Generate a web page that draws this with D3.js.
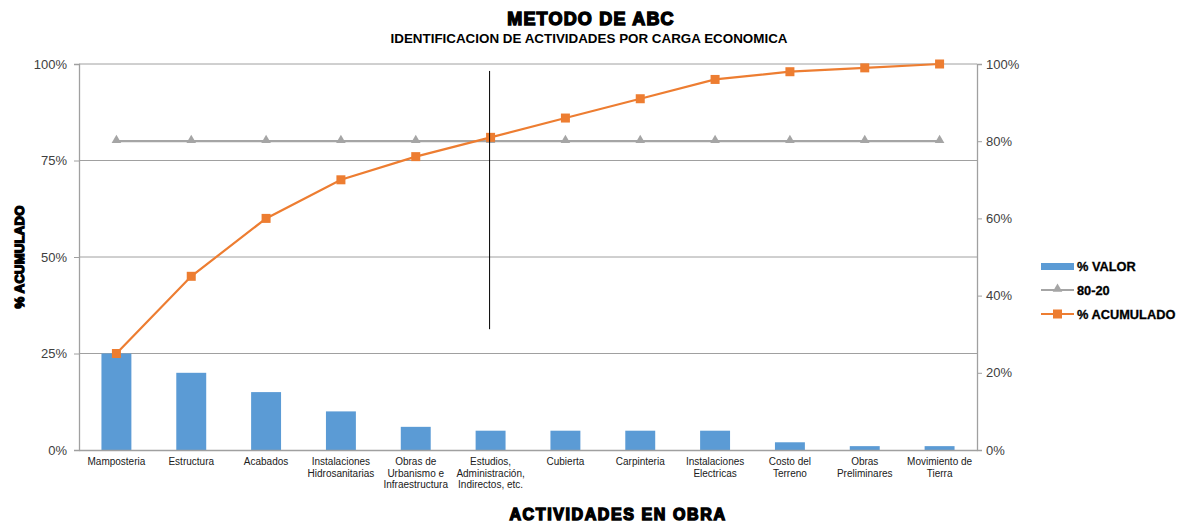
<!DOCTYPE html>
<html>
<head>
<meta charset="utf-8">
<script src="https://cdn.jsdelivr.net/npm/d3@7"></script>
<style>
  body { margin: 0; background: #fff; }
  svg { font-family: "Liberation Sans", Arial, sans-serif; }
  .heavy { font-weight: bold; stroke: #000; stroke-width: 1.4px; paint-order: stroke; }
</style>
</head>
<body>
<script>
// actividades (eje X)
var actividades = [
  ["Mamposteria"],
  ["Estructura"],
  ["Acabados"],
  ["Instalaciones", "Hidrosanitarias"],
  ["Obras de", "Urbanismo e", "Infraestructura"],
  ["Estudios,", "Administración,", "Indirectos, etc."],
  ["Cubierta"],
  ["Carpinteria"],
  ["Instalaciones", "Electricas"],
  ["Costo del", "Terreno"],
  ["Obras", "Preliminares"],
  ["Movimiento de", "Tierra"]
];
var valor = [25, 20, 15, 10, 6, 5, 5, 5, 5, 2, 1, 1];           // % VALOR
var acumulado = [25, 45, 60, 70, 76, 81, 86, 91, 96, 98, 99, 100]; // % ACUMULADO
var linea8020 = [80, 80, 80, 80, 80, 80, 80, 80, 80, 80, 80, 80];  // 80-20
var ticksIzq = [0, 25, 50, 75, 100];
var ticksDer = [0, 20, 40, 60, 80, 100];
// linea de corte vertical (categoria, desde %, hasta %)
var corte = {cat: 5, desde: 31.3, hasta: 98.2};

var W = 1189, H = 522;
var pLeft = 79, pRight = 977, pTop = 64, pBottom = 450;

var svg = d3.select("body").append("svg")
    .attr("width", W)
    .attr("height", H);

var keys = actividades.map(function (d, i) { return i; });

var x = d3.scaleBand()
    .domain(keys)
    .range([pLeft, pRight])
    .paddingInner(0.6)
    .paddingOuter(0.3);

var xc = function (i) { return x(i) + x.bandwidth() / 2; };

var y = d3.scaleLinear().domain([0, 100]).range([pBottom, pTop]);
var y2 = d3.scaleLinear().domain([0, 100]).range([pBottom, pTop]);

// gridlines
svg.append("g")
    .selectAll("line")
    .data(ticksIzq.filter(function (d) { return d > 0; }))
    .enter().append("line")
    .attr("x1", pLeft).attr("x2", pRight)
    .attr("y1", function (d) { return y(d); })
    .attr("y2", function (d) { return y(d); })
    .style("stroke", "#a0a0a0")
    .style("stroke-width", 1);

// bars
svg.append("g")
    .selectAll("rect")
    .data(valor)
    .enter().append("rect")
    .attr("x", function (d, i) { return x(i); })
    .attr("width", x.bandwidth())
    .attr("y", function (d) { return y(d); })
    .attr("height", function (d) { return y(0) - y(d); })
    .style("fill", "#5b9bd5");

// axes
var yAxis = d3.axisLeft(y).tickValues(ticksIzq).tickSize(5).tickFormat(function (d) { return d + "%"; });
var gy = svg.append("g").attr("transform", "translate(" + pLeft + ",0)").call(yAxis);

var yAxis2 = d3.axisRight(y2).tickValues(ticksDer).tickSize(5).tickFormat(function (d) { return d + "%"; });
var gy2 = svg.append("g").attr("transform", "translate(" + pRight + ",0)").call(yAxis2);

var xAxis = d3.axisBottom(x).tickSize(0).tickFormat("");
var gx = svg.append("g").attr("transform", "translate(0," + pBottom + ")").call(xAxis);

[gy, gy2, gx].forEach(function (g) {
    g.select(".domain").style("stroke", "#a0a0a0").style("stroke-width", 1.3);
    g.selectAll(".tick line").style("stroke", "#a0a0a0");
    g.selectAll(".tick text")
        .style("font-family", "Liberation Sans, Arial, sans-serif")
        .style("font-size", "13px")
        .style("fill", "#404040");
});
gy.selectAll(".tick text").attr("x", -12);
gy2.selectAll(".tick text").attr("x", 9);

// x labels (multi-linea)
var xl = svg.append("g")
    .selectAll("text")
    .data(actividades)
    .enter().append("text")
    .attr("text-anchor", "middle")
    .attr("x", function (d, i) { return xc(i); })
    .attr("y", pBottom + 15)
    .style("font-size", "10px")
    .style("fill", "#202020");
xl.each(function (d) {
    var t = d3.select(this);
    d.forEach(function (s, k) {
        t.append("tspan")
            .attr("x", t.attr("x"))
            .attr("dy", k === 0 ? 0 : 11.5)
            .text(s);
    });
});

// linea 80-20
var line = d3.line()
    .x(function (d, i) { return xc(i); })
    .y(function (d) { return y2(d); });

svg.append("path")
    .datum(linea8020)
    .attr("d", line)
    .style("fill", "none")
    .style("stroke", "#a5a5a5")
    .style("stroke-width", 2.2);

var tri = d3.symbol().type(d3.symbolTriangle).size(40);
svg.append("g")
    .selectAll("path")
    .data(linea8020)
    .enter().append("path")
    .attr("d", tri)
    .attr("transform", function (d, i) { return "translate(" + xc(i) + "," + (y2(d) - 1) + ")"; })
    .style("fill", "#a5a5a5");

// acumulado
svg.append("path")
    .datum(acumulado)
    .attr("d", line)
    .style("fill", "none")
    .style("stroke", "#ed7d31")
    .style("stroke-width", 2.2);

svg.append("g")
    .selectAll("rect")
    .data(acumulado)
    .enter().append("rect")
    .attr("x", function (d, i) { return xc(i) - 4.5; })
    .attr("y", function (d) { return y2(d) - 4.5; })
    .attr("width", 9)
    .attr("height", 9)
    .style("fill", "#ed7d31");

// linea de corte
svg.append("line")
    .attr("x1", xc(corte.cat) - 1).attr("x2", xc(corte.cat) - 1)
    .attr("y1", y(corte.hasta)).attr("y2", y(corte.desde))
    .style("stroke", "#000")
    .style("stroke-width", 1);

// titulos
svg.append("text")
    .attr("class", "heavy")
    .attr("x", 591).attr("y", 25)
    .attr("text-anchor", "middle")
    .style("font-size", "18px")
    .style("letter-spacing", "1.2px")
    .text("METODO DE ABC");

svg.append("text")
    .attr("x", 589).attr("y", 43)
    .attr("text-anchor", "middle")
    .style("font-size", "13.4px")
    .style("font-weight", "bold")
    .text("IDENTIFICACION DE ACTIVIDADES POR CARGA ECONOMICA");

svg.append("text")
    .attr("class", "heavy")
    .attr("transform", "translate(24,257) rotate(-90)")
    .attr("text-anchor", "middle")
    .style("font-size", "13px")
    .style("letter-spacing", "0.3px")
    .text("% ACUMULADO");

svg.append("text")
    .attr("class", "heavy")
    .attr("x", 618).attr("y", 520)
    .attr("text-anchor", "middle")
    .style("font-size", "16px")
    .style("letter-spacing", "1.6px")
    .text("ACTIVIDADES EN OBRA");

// leyenda
var lg = svg.append("g").attr("transform", "translate(1041,266)");
lg.append("rect").attr("x", 0).attr("y", -3).attr("width", 33).attr("height", 7).style("fill", "#5b9bd5");
lg.append("line").attr("x1", 0).attr("x2", 33).attr("y1", 24).attr("y2", 24)
    .style("stroke", "#a5a5a5").style("stroke-width", 2.2);
lg.append("path").attr("d", tri).attr("transform", "translate(16.5,23)").style("fill", "#a5a5a5");
lg.append("line").attr("x1", 0).attr("x2", 33).attr("y1", 48).attr("y2", 48)
    .style("stroke", "#ed7d31").style("stroke-width", 2.2);
lg.append("rect").attr("x", 12).attr("y", 43.5).attr("width", 9).attr("height", 9).style("fill", "#ed7d31");
lg.selectAll("text.lt")
    .data(["% VALOR", "80-20", "% ACUMULADO"])
    .enter().append("text")
    .attr("class", "lt")
    .attr("x", 36)
    .attr("y", function (d, i) { return 5 + i * 24; })
    .style("font-size", "12.8px")
    .style("font-weight", "bold")
    .style("stroke", "#000")
    .style("stroke-width", 0.3)
    .text(function (d) { return d; });
</script>
</body>
</html>
